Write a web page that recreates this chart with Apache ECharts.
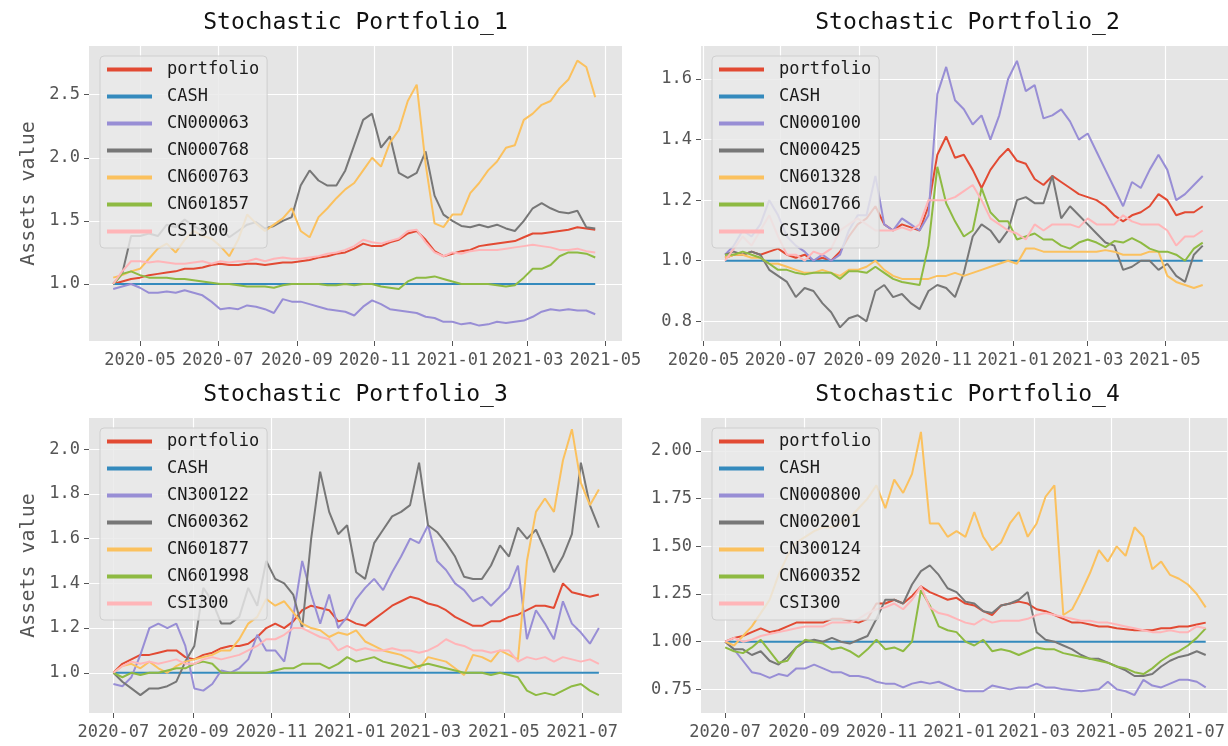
<!DOCTYPE html>
<html>
<head>
<meta charset="utf-8">
<script src="https://cdn.jsdelivr.net/npm/echarts@6/dist/echarts.min.js"></script>
<style>
  html, body { margin: 0; padding: 0; background: #ffffff; }
  #main { width: 1228px; height: 746px; }
</style>
</head>
<body>
<div id="main"></div>
<script>
// ---- data (weekly samples) ----
const start1 = "2020-04-10";
const names1 = ["portfolio", "CASH", "CN000063", "CN000768", "CN600763", "CN601857", "CSI300"];
const portfolio1 = [1.0,1.02,1.04,1.05,1.07,1.08,1.09,1.1,1.12,1.12, 1.13,1.15,1.16,1.15,1.15,1.16,1.16,1.15,1.16,1.17, 1.17,1.18,1.19,1.21,1.22,1.24,1.25,1.28,1.32,1.3, 1.3,1.33,1.35,1.4,1.42,1.35,1.26,1.22,1.24,1.26, 1.27,1.3,1.31,1.32,1.33,1.34,1.37,1.4,1.4,1.41, 1.42,1.43,1.45,1.44,1.43];
const cn000063 = [0.96,0.98,1.0,0.97,0.93,0.93,0.94,0.93,0.95,0.93, 0.91,0.86,0.8,0.81,0.8,0.83,0.82,0.8,0.77,0.88, 0.86,0.86,0.84,0.82,0.8,0.79,0.78,0.75,0.82,0.87, 0.84,0.8,0.79,0.78,0.77,0.74,0.73,0.7,0.7,0.68, 0.69,0.67,0.68,0.7,0.69,0.7,0.71,0.74,0.78,0.8, 0.79,0.8,0.79,0.79,0.76];
const cn000768 = [1.0,1.08,1.38,1.38,1.4,1.38,1.47,1.45,1.51,1.46, 1.42,1.47,1.45,1.37,1.42,1.47,1.49,1.44,1.46,1.5, 1.53,1.78,1.9,1.82,1.78,1.78,1.9,2.1,2.3,2.35, 2.08,2.17,1.88,1.84,1.88,2.05,1.7,1.55,1.5,1.46, 1.45,1.47,1.45,1.47,1.44,1.42,1.5,1.6,1.64,1.6, 1.57,1.56,1.58,1.45,1.44];
const cn600763 = [1.05,1.07,1.1,1.12,1.2,1.28,1.32,1.25,1.35,1.42, 1.38,1.36,1.3,1.22,1.35,1.55,1.48,1.42,1.47,1.52, 1.6,1.42,1.37,1.53,1.6,1.68,1.75,1.8,1.9,2.0, 1.93,2.12,2.22,2.45,2.58,1.95,1.48,1.45,1.55,1.55, 1.72,1.8,1.9,1.97,2.08,2.1,2.3,2.35,2.42,2.45, 2.55,2.62,2.77,2.72,2.48];
const cn601857 = [1.0,1.08,1.1,1.07,1.05,1.05,1.05,1.04,1.04,1.03, 1.02,1.01,1.0,1.0,0.99,0.98,0.98,0.98,0.97,0.99, 1.0,1.0,1.0,1.0,0.99,0.99,1.0,0.99,1.0,1.0, 0.98,0.97,0.96,1.02,1.05,1.05,1.06,1.04,1.02,1.0, 1.0,1.0,1.0,0.99,0.98,0.99,1.05,1.12,1.12,1.15, 1.22,1.25,1.25,1.24,1.21];
const csi1 = [1.0,1.1,1.18,1.18,1.17,1.18,1.17,1.16,1.16,1.17, 1.18,1.16,1.18,1.17,1.18,1.18,1.2,1.18,1.2,1.21, 1.2,1.2,1.21,1.22,1.24,1.25,1.27,1.3,1.35,1.33, 1.32,1.34,1.36,1.42,1.43,1.33,1.25,1.22,1.25,1.24, 1.26,1.27,1.27,1.27,1.28,1.29,1.3,1.31,1.3,1.29, 1.27,1.27,1.28,1.26,1.25];

const start2 = "2020-05-18";
const names2 = ["portfolio", "CASH", "CN000100", "CN000425", "CN601328", "CN601766", "CSI300"];
const portfolio2 = [1.01,1.02,1.02,1.03,1.02,1.03,1.04,1.02,1.01,1.02, 1.0,1.01,1.0,1.03,1.08,1.12,1.14,1.18,1.12,1.1, 1.12,1.11,1.1,1.18,1.35,1.41,1.34,1.35,1.3,1.24, 1.3,1.34,1.37,1.33,1.32,1.27,1.25,1.28,1.26,1.24, 1.22,1.21,1.2,1.18,1.15,1.13,1.15,1.16,1.18,1.22, 1.2,1.15,1.16,1.16,1.18];
const cn000100 = [1.02,1.05,1.1,1.08,1.12,1.2,1.15,1.08,1.05,1.03, 1.0,1.02,1.0,1.02,1.1,1.15,1.15,1.28,1.12,1.1, 1.14,1.12,1.1,1.15,1.55,1.64,1.53,1.5,1.45,1.48, 1.4,1.48,1.6,1.66,1.56,1.58,1.47,1.48,1.5,1.46, 1.4,1.42,1.36,1.3,1.24,1.18,1.26,1.24,1.3,1.35, 1.3,1.2,1.22,1.25,1.28];
const cn000425 = [1.02,1.03,1.02,1.03,1.02,0.97,0.95,0.93,0.88,0.91, 0.9,0.86,0.83,0.78,0.81,0.82,0.8,0.9,0.92,0.88, 0.89,0.86,0.84,0.9,0.92,0.91,0.88,0.96,1.08,1.12, 1.1,1.06,1.1,1.2,1.21,1.19,1.19,1.28,1.14,1.18, 1.15,1.12,1.09,1.06,1.05,0.97,0.98,1.0,1.0,0.97, 0.99,0.95,0.93,1.02,1.05];
const cn601328 = [1.01,1.02,1.02,1.01,1.01,0.99,0.99,0.98,0.97,0.96, 0.96,0.97,0.96,0.95,0.97,0.97,0.98,1.0,0.97,0.95, 0.94,0.94,0.94,0.94,0.95,0.95,0.96,0.95,0.96,0.97, 0.98,0.99,1.0,0.99,1.04,1.04,1.03,1.03,1.03,1.03, 1.03,1.03,1.03,1.035,1.03,1.02,1.02,1.02,1.03,1.03, 0.95,0.93,0.92,0.91,0.92];
const cn601766 = [1.02,1.02,1.03,1.02,1.01,0.99,0.97,0.97,0.96,0.955, 0.96,0.96,0.96,0.94,0.965,0.965,0.96,0.98,0.96,0.94, 0.93,0.925,0.92,1.05,1.31,1.19,1.13,1.08,1.1,1.24, 1.16,1.13,1.13,1.07,1.08,1.09,1.07,1.07,1.05,1.04, 1.06,1.07,1.06,1.045,1.065,1.06,1.075,1.06,1.04,1.03, 1.03,1.02,1.0,1.04,1.06];
const csi2 = [1.0,1.04,1.08,1.05,1.1,1.15,1.08,1.02,1.02,1.0, 1.03,1.02,1.04,1.1,1.12,1.14,1.12,1.1,1.1,1.1, 1.11,1.1,1.12,1.2,1.2,1.2,1.21,1.23,1.25,1.2, 1.14,1.12,1.1,1.09,1.07,1.12,1.1,1.12,1.12,1.12, 1.11,1.14,1.12,1.12,1.12,1.15,1.13,1.12,1.12,1.12, 1.1,1.05,1.08,1.08,1.1];

const start3 = "2020-07-01";
const names3 = ["portfolio", "CASH", "CN300122", "CN600362", "CN601877", "CN601998", "CSI300"];
const portfolio3 = [1.0,1.04,1.06,1.08,1.08,1.09,1.1,1.1,1.07,1.06, 1.08,1.09,1.11,1.12,1.12,1.13,1.16,1.2,1.22,1.2, 1.23,1.28,1.3,1.29,1.28,1.23,1.24,1.22,1.21,1.24, 1.27,1.3,1.32,1.34,1.33,1.31,1.3,1.28,1.25,1.23, 1.21,1.21,1.23,1.23,1.25,1.26,1.28,1.3,1.3,1.29, 1.4,1.36,1.35,1.34,1.35];
const cn300122 = [0.95,0.94,0.98,1.08,1.2,1.22,1.2,1.22,1.12,0.93, 0.92,0.95,1.01,1.0,1.02,1.06,1.17,1.1,1.1,1.05, 1.25,1.5,1.35,1.22,1.35,1.2,1.25,1.33,1.38,1.42, 1.37,1.45,1.52,1.6,1.58,1.66,1.5,1.46,1.4,1.37, 1.32,1.34,1.3,1.34,1.38,1.48,1.15,1.28,1.22,1.15, 1.32,1.22,1.18,1.13,1.2];
const cn600362 = [1.0,0.96,0.93,0.9,0.93,0.93,0.94,0.96,1.05,1.12, 1.38,1.32,1.22,1.22,1.25,1.38,1.3,1.5,1.42,1.4, 1.35,1.2,1.6,1.9,1.72,1.62,1.66,1.45,1.42,1.58, 1.64,1.7,1.72,1.75,1.94,1.66,1.63,1.58,1.52,1.43, 1.42,1.42,1.48,1.57,1.52,1.65,1.6,1.64,1.55,1.45, 1.52,1.62,1.94,1.75,1.65];
const cn601877 = [1.0,1.03,1.04,1.02,1.05,1.02,1.0,1.03,1.05,1.06, 1.07,1.08,1.1,1.1,1.15,1.22,1.25,1.33,1.3,1.32, 1.27,1.22,1.2,1.19,1.16,1.18,1.17,1.19,1.14,1.12, 1.1,1.09,1.08,1.06,1.02,1.07,1.06,1.05,1.02,0.99, 1.08,1.07,1.05,1.1,1.08,1.06,1.5,1.72,1.78,1.72, 1.95,2.09,1.85,1.75,1.82];
const cn601998 = [1.0,0.98,1.0,0.99,1.0,1.0,1.01,1.02,1.02,1.04, 1.05,1.04,1.0,1.0,1.0,1.0,1.0,1.0,1.01,1.02, 1.02,1.04,1.04,1.04,1.02,1.04,1.07,1.05,1.06,1.07, 1.05,1.04,1.03,1.02,1.03,1.04,1.03,1.02,1.01,1.0, 1.0,1.0,0.99,1.0,0.99,0.98,0.92,0.9,0.91,0.9, 0.92,0.94,0.95,0.92,0.9];
const csi3 = [1.0,1.03,1.05,1.04,1.05,1.04,1.05,1.06,1.04,1.04, 1.06,1.07,1.06,1.07,1.08,1.1,1.12,1.15,1.15,1.17, 1.2,1.2,1.18,1.16,1.15,1.1,1.12,1.1,1.11,1.1, 1.1,1.11,1.1,1.1,1.09,1.1,1.12,1.15,1.13,1.12, 1.1,1.1,1.09,1.1,1.1,1.05,1.07,1.06,1.07,1.05, 1.07,1.06,1.05,1.06,1.04];

const start4 = "2020-07-01";
const names4 = ["portfolio", "CASH", "CN000800", "CN002001", "CN300124", "CN600352", "CSI300"];
const portfolio4 = [1.0,1.02,1.03,1.05,1.07,1.05,1.06,1.08,1.1,1.1, 1.1,1.1,1.12,1.12,1.11,1.1,1.12,1.2,1.2,1.22, 1.2,1.24,1.29,1.26,1.24,1.22,1.23,1.2,1.19,1.16, 1.14,1.19,1.2,1.21,1.2,1.17,1.16,1.14,1.12,1.1, 1.1,1.09,1.08,1.08,1.07,1.065,1.06,1.06,1.06,1.07, 1.07,1.08,1.08,1.09,1.1];
const cn000800 = [1.0,0.96,0.9,0.84,0.83,0.81,0.83,0.82,0.86,0.86, 0.88,0.86,0.84,0.84,0.82,0.82,0.81,0.79,0.78,0.78, 0.76,0.78,0.79,0.78,0.79,0.77,0.75,0.74,0.74,0.74, 0.77,0.76,0.75,0.76,0.76,0.78,0.76,0.76,0.75,0.745, 0.74,0.745,0.75,0.79,0.75,0.74,0.72,0.8,0.77,0.76, 0.78,0.8,0.8,0.79,0.76];
const cn002001 = [1.0,0.96,0.96,0.93,0.95,0.9,0.88,0.92,0.97,1.0, 1.01,1.0,1.02,1.0,0.99,1.01,1.03,1.12,1.22,1.22, 1.2,1.3,1.37,1.4,1.35,1.28,1.26,1.21,1.2,1.16, 1.15,1.19,1.2,1.22,1.26,1.05,1.01,1.0,0.98,0.96, 0.93,0.91,0.91,0.89,0.87,0.85,0.82,0.82,0.83,0.87, 0.9,0.92,0.93,0.95,0.93];
const cn300124 = [1.0,0.98,1.03,1.08,1.15,1.22,1.35,1.45,1.52,1.55, 1.58,1.6,1.6,1.62,1.65,1.7,1.75,1.82,1.7,1.85, 1.78,1.88,2.1,1.62,1.62,1.55,1.58,1.55,1.68,1.55, 1.48,1.52,1.62,1.68,1.55,1.62,1.76,1.82,1.14,1.17, 1.26,1.36,1.48,1.42,1.5,1.45,1.6,1.55,1.38,1.42, 1.35,1.33,1.3,1.25,1.18];
const cn600352 = [0.97,0.95,0.94,0.97,1.01,0.95,0.89,0.9,0.97,1.01, 1.0,0.99,0.96,0.97,0.95,0.92,0.96,1.01,0.96,0.97, 0.95,1.0,1.27,1.19,1.08,1.06,1.05,1.0,0.98,1.01, 0.95,0.96,0.95,0.93,0.95,0.97,0.96,0.96,0.94,0.93, 0.92,0.91,0.9,0.89,0.87,0.86,0.84,0.83,0.86,0.9, 0.93,0.95,0.98,1.02,1.07];
const csi4 = [1.0,1.02,1.0,1.01,1.03,1.04,1.05,1.06,1.07,1.08, 1.08,1.08,1.1,1.1,1.1,1.12,1.15,1.17,1.18,1.2, 1.17,1.22,1.29,1.18,1.15,1.14,1.12,1.1,1.09,1.12, 1.1,1.11,1.11,1.11,1.12,1.14,1.15,1.14,1.13,1.12, 1.11,1.11,1.1,1.1,1.09,1.08,1.07,1.06,1.05,1.05, 1.06,1.05,1.05,1.08,1.07];

const CASH = 1.0;

const xTicksTop = ["2020-05", "2020-07", "2020-09", "2020-11", "2021-01", "2021-03", "2021-05"];
const xTicksBottom = ["2020-07", "2020-09", "2020-11", "2021-01", "2021-03", "2021-05", "2021-07"];
const yTicks1 = [1.0, 1.5, 2.0, 2.5];
const yTicks2 = [0.8, 1.0, 1.2, 1.4, 1.6];
const yTicks3 = [1.0, 1.2, 1.4, 1.6, 1.8, 2.0];
const yTicks4 = [0.75, 1.0, 1.25, 1.5, 1.75, 2.0];

// ---- helpers ----
const DAY = 86400000;
function ts(s) { return Date.parse(s.length === 7 ? s + "-01T00:00:00Z" : s + "T00:00:00Z"); }
function weekly(start, n) {
  const t0 = ts(start), out = [];
  for (let i = 0; i < n; i++) out.push(t0 + i * 7 * DAY);
  return out;
}
function ym(v) {
  const d = new Date(v);
  return d.getUTCFullYear() + "-" + String(d.getUTCMonth() + 1).padStart(2, "0");
}

const colors = ["#E24A33", "#348ABD", "#988ED5", "#777777", "#FBC15E", "#8EBA42", "#FFB5B8"];
const FONT = "DejaVu Sans Mono";

const panels = [
  { title: "Stochastic Portfolio_1", start: start1, names: names1, vals: [portfolio1, null, cn000063, cn000768, cn600763, cn601857, csi1],
    xTicks: xTicksTop, xmin: "2020-03-22", xmax: "2021-05-14", yTicks: yTicks1, ymin: 0.548, ymax: 2.886, dig: 1 },
  { title: "Stochastic Portfolio_2", start: start2, names: names2, vals: [portfolio2, null, cn000100, cn000425, cn601328, cn601766, csi2],
    xTicks: xTicksTop, xmin: "2020-04-29", xmax: "2021-06-20", yTicks: yTicks2, ymin: 0.735, ymax: 1.709, dig: 1 },
  { title: "Stochastic Portfolio_3", start: start3, names: names3, vals: [portfolio3, null, cn300122, cn600362, cn601877, cn601998, csi3],
    xTicks: xTicksBottom, xmin: "2020-06-12", xmax: "2021-08-01", yTicks: yTicks3, ymin: 0.82, ymax: 2.14, dig: 1 },
  { title: "Stochastic Portfolio_4", start: start4, names: names4, vals: [portfolio4, null, cn000800, cn002001, cn300124, cn600352, csi4],
    xTicks: xTicksBottom, xmin: "2020-06-12", xmax: "2021-07-31", yTicks: yTicks4, ymin: 0.626, ymax: 2.173, dig: 2 }
];

// layout of the four plot areas (pixels)
const boxes = [
  { left: 89, top: 46 }, { left: 701, top: 46 },
  { left: 89, top: 418 }, { left: 701, top: 418 }
];
const W = 533, H = 295;

const option = {
  animation: false,
  backgroundColor: "#ffffff",
  title: [], legend: [], grid: [], xAxis: [], yAxis: [], series: []
};

panels.forEach(function (p, i) {
  const b = boxes[i];
  const dates = weekly(p.start, p.vals[0].length);
  option.title.push({
    text: p.title, left: b.left + W / 2, top: b.top - 34, textAlign: "center", padding: 0,
    textStyle: { fontFamily: FONT, fontSize: 23, fontWeight: "normal", color: "#111" }
  });
  option.grid.push({
    left: b.left, top: b.top, width: W, height: H, show: true,
    backgroundColor: "#E5E5E5", borderWidth: 0
  });
  const xVals = p.xTicks.map(ts);
  option.xAxis.push({
    type: "value", gridIndex: i, min: ts(p.xmin), max: ts(p.xmax),
    axisLine: { show: false },
    axisTick: { show: true, length: 5, lineStyle: { color: "#555" }, customValues: xVals },
    axisLabel: { customValues: xVals, formatter: ym, color: "#555", fontFamily: FONT, fontSize: 17, margin: 11 },
    splitLine: { show: true, lineStyle: { color: "#ffffff", width: 1.2 } }
  });
  option.yAxis.push({
    type: "value", gridIndex: i, min: p.ymin, max: p.ymax,
    name: i % 2 === 0 ? "Assets value" : "", nameLocation: "middle", nameRotate: 90, nameGap: 50,
    nameTextStyle: { fontFamily: FONT, fontSize: 20, color: "#555" },
    axisLine: { show: false },
    axisTick: { show: true, length: 5, lineStyle: { color: "#555" }, customValues: p.yTicks },
    axisLabel: { customValues: p.yTicks, formatter: function (v) { return v.toFixed(p.dig); },
      color: "#555", fontFamily: FONT, fontSize: 17, margin: 9 },
    splitLine: { show: true, lineStyle: { color: "#ffffff", width: 1.2 } }
  });
  p.names.forEach(function (name, j) {
    const arr = p.vals[j];
    const data = dates.map(function (d, k) { return [d, arr ? arr[k] : CASH]; });
    option.series.push({
      type: "line", name: name, xAxisIndex: i, yAxisIndex: i, data: data,
      showSymbol: false, symbol: "none", z: 2 + j * 0.01,
      itemStyle: { color: colors[j] },
      lineStyle: { color: colors[j], width: 2 }
    });
  });
  option.legend.push({
    data: p.names, orient: "vertical", left: b.left + 11, top: b.top + 10,
    icon: "rect", itemWidth: 45, itemHeight: 4, itemGap: 10, selectedMode: false,
    padding: [5, 8, 8, 7],
    backgroundColor: "rgba(233,233,233,0.82)", borderColor: "#cfcfcf", borderWidth: 1, borderRadius: 4,
    textStyle: { fontFamily: FONT, fontSize: 17, lineHeight: 17, color: "#1a1a1a", padding: [0, 0, 0, 10] }
  });
});

const chart = echarts.init(document.getElementById("main"));
chart.setOption(option);
</script>
</body>
</html>
